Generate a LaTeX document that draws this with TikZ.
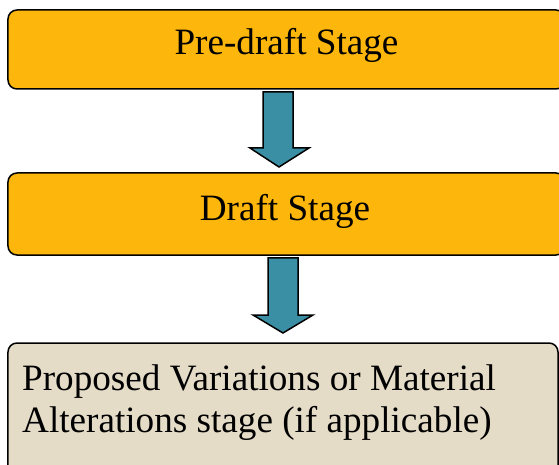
\documentclass[tikz,border=0pt]{standalone}
\usepackage{fontspec}
\setmainfont{Liberation Serif}
\definecolor{stageorange}{HTML}{FDB60B}
\definecolor{arrowteal}{HTML}{3B8FA4}
\definecolor{stagetan}{HTML}{E5DCC8}
\tikzset{
  stagebox/.style={draw=black, line width=1.5bp, rounded corners=9bp, inner sep=0pt},
  blockarrow/.style={draw=black, line width=1.5bp, fill=arrowteal, line join=miter},
  stagetext/.style={font=\fontsize{37.3}{42}\selectfont, inner sep=0pt},
}
\begin{document}
\begin{tikzpicture}[x=1bp, y=-1bp]
\useasboundingbox (0,0) rectangle (559,465);
\node[stagebox, fill=stageorange, minimum width=557bp, minimum height=79bp] (b1) at (286.5,49.5) {};
\node[stagetext, anchor=base] (t1) at (286.5,55) {Pre-draft Stage};
\node[stagebox, fill=stageorange, minimum width=557bp, minimum height=82bp] (b2) at (286.5,214) {};
\node[stagetext, anchor=base] (t2) at (285,221) {Draft Stage};
\node[stagebox, fill=stagetan, minimum width=550bp, minimum height=140bp] (b3) at (283,413) {};
\node[stagetext, anchor=base west, align=left] (t3) at (22,432) {Proposed Variations or Material\\Alterations stage (if applicable)};
\draw[blockarrow] (263,92) -- (293,92) -- (293,148) -- (309,148) -- (279,167) -- (250,148) -- (263,148) -- cycle;
\draw[blockarrow] (268,258) -- (298,258) -- (298,315) -- (313,315) -- (283,333) -- (253,315) -- (268,315) -- cycle;
\end{tikzpicture}
\end{document}
